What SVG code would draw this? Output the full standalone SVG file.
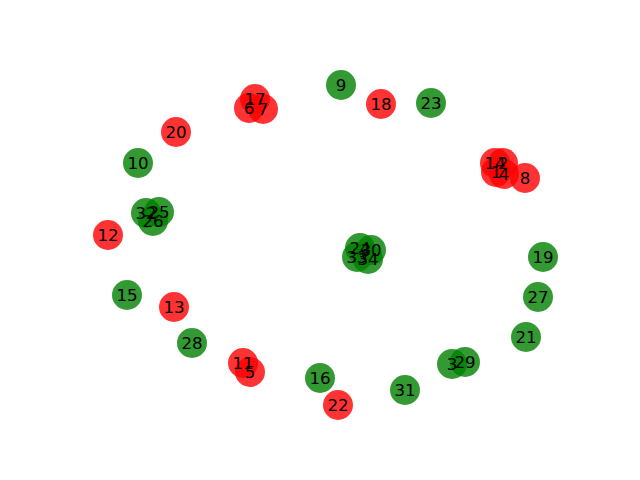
<svg xmlns="http://www.w3.org/2000/svg" width="640" height="480" viewBox="0 0 640 480">
<style>
.r{fill:#ff0000;fill-opacity:0.8}
.g{fill:#008000;fill-opacity:0.8}
text{font-family:"DejaVu Sans",sans-serif;font-size:16.67px;fill:#000;text-anchor:middle;dominant-baseline:central}
</style>
<rect width="640" height="480" fill="#fff"/>
<g id="edges"/>
<g id="nodes">
<g id="n17"><circle class="r" cx="255" cy="99" r="15"/></g>
<g id="n6"><circle class="r" cx="249" cy="108" r="15"/></g>
<g id="n7"><circle class="r" cx="263" cy="109" r="15"/></g>
<g id="n18"><circle class="r" cx="381" cy="104" r="15"/></g>
<g id="n20"><circle class="r" cx="176" cy="132" r="15"/></g>
<g id="n14"><circle class="r" cx="495" cy="163" r="15"/></g>
<g id="n2"><circle class="r" cx="503" cy="163" r="15"/></g>
<g id="n1"><circle class="r" cx="496" cy="172" r="15"/></g>
<g id="n4"><circle class="r" cx="504" cy="174" r="15"/></g>
<g id="n8"><circle class="r" cx="525" cy="178" r="15"/></g>
<g id="n12"><circle class="r" cx="108" cy="235" r="15"/></g>
<g id="n13"><circle class="r" cx="174" cy="307" r="15"/></g>
<g id="n11"><circle class="r" cx="243" cy="363" r="15"/></g>
<g id="n5"><circle class="r" cx="250" cy="372" r="15"/></g>
<g id="n22"><circle class="r" cx="338" cy="405" r="15"/></g>
<g id="n9"><circle class="g" cx="341" cy="85" r="15"/></g>
<g id="n23"><circle class="g" cx="431" cy="103" r="15"/></g>
<g id="n10"><circle class="g" cx="138" cy="163" r="15"/></g>
<g id="n32"><circle class="g" cx="146" cy="213" r="15"/></g>
<g id="n25"><circle class="g" cx="159" cy="212" r="15"/></g>
<g id="n26"><circle class="g" cx="153" cy="221" r="15"/></g>
<g id="n24"><circle class="g" cx="360" cy="248" r="15"/></g>
<g id="n30"><circle class="g" cx="371" cy="250" r="15"/></g>
<g id="n33"><circle class="g" cx="357" cy="257" r="15"/></g>
<g id="n34"><circle class="g" cx="368" cy="259" r="15"/></g>
<g id="n19"><circle class="g" cx="543" cy="257" r="15"/></g>
<g id="n15"><circle class="g" cx="127" cy="295" r="15"/></g>
<g id="n27"><circle class="g" cx="538" cy="297" r="15"/></g>
<g id="n21"><circle class="g" cx="526" cy="337" r="15"/></g>
<g id="n28"><circle class="g" cx="192" cy="343" r="15"/></g>
<g id="n3"><circle class="g" cx="452" cy="364" r="15"/></g>
<g id="n29"><circle class="g" cx="465" cy="362" r="15"/></g>
<g id="n16"><circle class="g" cx="320" cy="378" r="15"/></g>
<g id="n31"><circle class="g" cx="405" cy="390" r="15"/></g>
</g>
<g id="labels">
<text id="t17" x="255" y="99">17</text>
<text id="t6" x="249" y="108">6</text>
<text id="t7" x="263" y="109">7</text>
<text id="t18" x="381" y="104">18</text>
<text id="t20" x="176" y="132">20</text>
<text id="t14" x="495" y="163">14</text>
<text id="t2" x="503" y="163">2</text>
<text id="t1" x="496" y="172">1</text>
<text id="t4" x="504" y="174">4</text>
<text id="t8" x="525" y="178">8</text>
<text id="t12" x="108" y="235">12</text>
<text id="t13" x="174" y="307">13</text>
<text id="t11" x="243" y="363">11</text>
<text id="t5" x="250" y="372">5</text>
<text id="t22" x="338" y="405">22</text>
<text id="t9" x="341" y="85">9</text>
<text id="t23" x="431" y="103">23</text>
<text id="t10" x="138" y="163">10</text>
<text id="t32" x="146" y="213">32</text>
<text id="t25" x="159" y="212">25</text>
<text id="t26" x="153" y="221">26</text>
<text id="t24" x="360" y="248">24</text>
<text id="t30" x="371" y="250">30</text>
<text id="t33" x="357" y="257">33</text>
<text id="t34" x="368" y="259">34</text>
<text id="t19" x="543" y="257">19</text>
<text id="t15" x="127" y="295">15</text>
<text id="t27" x="538" y="297">27</text>
<text id="t21" x="526" y="337">21</text>
<text id="t28" x="192" y="343">28</text>
<text id="t3" x="452" y="364">3</text>
<text id="t29" x="465" y="362">29</text>
<text id="t16" x="320" y="378">16</text>
<text id="t31" x="405" y="390">31</text>
</g>
</svg>
